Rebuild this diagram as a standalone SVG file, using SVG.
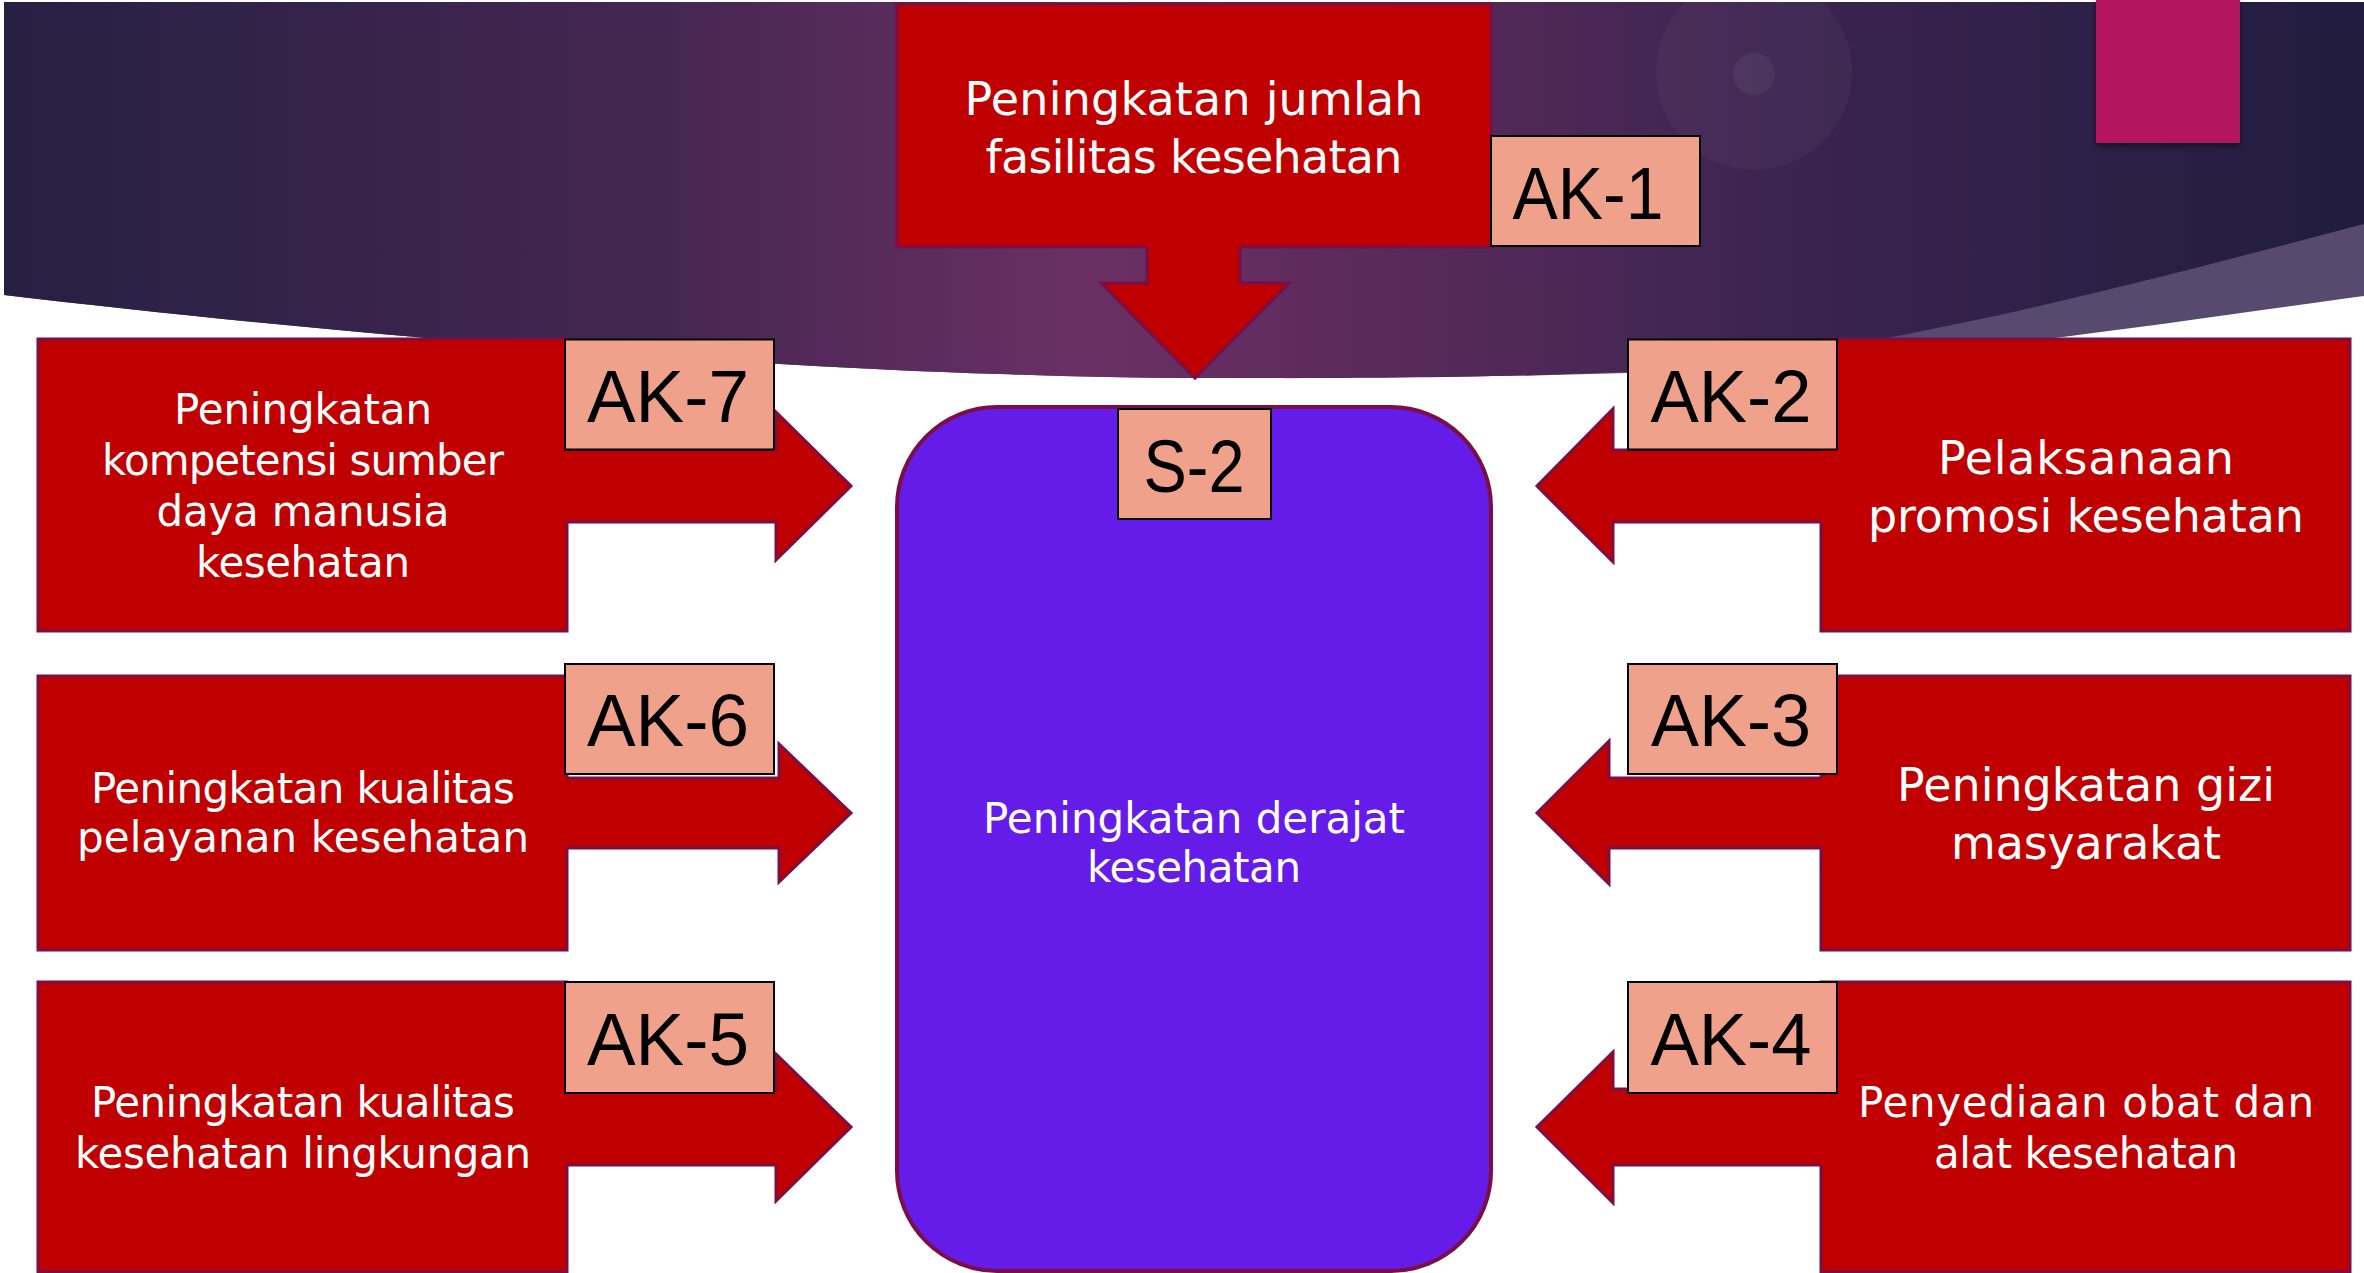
<svg xmlns="http://www.w3.org/2000/svg" width="2364" height="1273" viewBox="0 0 2364 1273">
<defs>
<linearGradient id="bg" gradientUnits="userSpaceOnUse" x1="0" y1="0" x2="2364" y2="0">
<stop offset="0" stop-color="#262043"/>
<stop offset="0.28" stop-color="#452653"/>
<stop offset="0.46" stop-color="#6a3066"/>
<stop offset="0.56" stop-color="#5e2b5e"/>
<stop offset="0.75" stop-color="#3c2450"/>
<stop offset="1" stop-color="#211c40"/>
</linearGradient>
<filter id="sh" x="-20%" y="-20%" width="140%" height="140%">
<feDropShadow dx="0" dy="3" stdDeviation="3" flood-color="#000" flood-opacity="0.5"/>
</filter>
</defs>
<style>
.red{fill:#c00000;stroke:#7b0e45;stroke-width:3;stroke-linejoin:miter}
.tag{fill:#f0a18b;stroke:#000;stroke-width:2}
.tagtxt{font-family:"Liberation Sans",Arial,sans-serif;font-size:75px;fill:#000;text-anchor:middle}
.wt{font-family:"DejaVu Sans","Liberation Sans",sans-serif;fill:#fff;text-anchor:middle}
.f46{font-size:46px}
.f42{font-size:42px}
</style>
<rect width="2364" height="1273" fill="#fff"/>
<g id="background">
<path d="M4,2 H2364 V296 C2200,318 2000,350 1750,368 C1550,378 1350,378 1195,378 Q1100,378 1000,374 C700,365 300,330 4,295 Z" fill="#574a6e"/>
<path d="M4,2 H2364 V224 C2150,280 1950,335 1700,368 C1500,380 1300,378 1195,378 Q1100,378 1000,374 C700,365 300,330 4,295 Z" fill="url(#bg)"/>
<circle cx="1754" cy="72" r="98" fill="#fff" fill-opacity="0.035"/>
<circle cx="1754" cy="74" r="21" fill="#fff" fill-opacity="0.05"/>
<rect x="2096" y="0" width="144" height="143" fill="#b3135f" filter="url(#sh)"/>
</g>
<g id="connectors">
<path class="red" d="M1147,247 V283 H1101 L1195,378 L1289,283 H1240 V247"/>
<path class="red" d="M567,450 H776 V412 L851,486 L776,560 V522 H567"/>
<path class="red" d="M567,778 H779 V744 L851,813 L779,882 V848 H567"/>
<path class="red" d="M567,1089 H776 V1054 L851,1127 L776,1201 V1165 H567"/>
<path class="red" d="M1821,450 H1613 V409 L1537,486 L1613,562 V522 H1821"/>
<path class="red" d="M1821,778 H1609 V741 L1537,813 L1609,884 V848 H1821"/>
<path class="red" d="M1821,1089 H1613 V1052 L1537,1127 L1613,1203 V1165 H1821"/>
</g>
<g id="S-2">
<rect x="897" y="407" width="594" height="864" rx="100" ry="100" fill="#651ce9" stroke="#7b0e45" stroke-width="4"/>
<rect class="tag" x="1118" y="409" width="153" height="110"/>
<text class="tagtxt" x="1194" y="492" font-size="78" textLength="101" lengthAdjust="spacingAndGlyphs">S-2</text>
<text class="wt f42" x="1194" y="833" textLength="422">Peningkatan derajat</text>
<text class="wt f42" x="1194" y="882" textLength="214">kesehatan</text>
</g>
<g id="AK-1">
<path class="red" d="M1240,247 H1491 V4 H897 V247 H1147"/>
<text class="wt f46" x="1194" y="115" textLength="459">Peningkatan jumlah</text>
<text class="wt f46" x="1194" y="173" textLength="417">fasilitas kesehatan</text>
<rect class="tag" x="1491" y="136" width="209" height="110"/>
<text class="tagtxt" x="1588" y="219" textLength="151" lengthAdjust="spacingAndGlyphs">AK-1</text>
</g>
<g id="AK-7">
<path class="red" d="M567,450 V339 H38 V631 H567 V522"/>
<text class="wt f42" x="303" y="424" textLength="258">Peningkatan</text>
<text class="wt f42" x="303" y="475" textLength="402">kompetensi sumber</text>
<text class="wt f42" x="303" y="526" textLength="293">daya manusia</text>
<text class="wt f42" x="303" y="577" textLength="214">kesehatan</text>
<rect class="tag" x="565" y="339.5" width="209" height="110"/>
<text class="tagtxt" x="668" y="422" textLength="162" lengthAdjust="spacingAndGlyphs">AK-7</text>
</g>
<g id="AK-6">
<path class="red" d="M567,778 V676 H38 V950 H567 V848"/>
<text class="wt f42" x="303" y="803" textLength="424">Peningkatan kualitas</text>
<text class="wt f42" x="303" y="852" textLength="452">pelayanan kesehatan</text>
<rect class="tag" x="565" y="664" width="209" height="110"/>
<text class="tagtxt" x="668" y="746" textLength="162" lengthAdjust="spacingAndGlyphs">AK-6</text>
</g>
<g id="AK-5">
<path class="red" d="M567,1089 V982 H38 V1272 H567 V1165"/>
<text class="wt f42" x="303" y="1117" textLength="424">Peningkatan kualitas</text>
<text class="wt f42" x="303" y="1168" textLength="456">kesehatan lingkungan</text>
<rect class="tag" x="565" y="982" width="209" height="111"/>
<text class="tagtxt" x="668" y="1065" textLength="162" lengthAdjust="spacingAndGlyphs">AK-5</text>
</g>
<g id="AK-2">
<path class="red" d="M1821,450 V339 H2350 V631 H1821 V522"/>
<text class="wt f46" x="2086" y="474" textLength="296">Pelaksanaan</text>
<text class="wt f46" x="2086" y="532" textLength="436">promosi kesehatan</text>
<rect class="tag" x="1628" y="339.5" width="209" height="110"/>
<text class="tagtxt" x="1731" y="422" textLength="161" lengthAdjust="spacingAndGlyphs">AK-2</text>
</g>
<g id="AK-3">
<path class="red" d="M1821,778 V676 H2350 V950 H1821 V848"/>
<text class="wt f46" x="2086" y="801" textLength="378">Peningkatan gizi</text>
<text class="wt f46" x="2086" y="859" textLength="270">masyarakat</text>
<rect class="tag" x="1628" y="664" width="209" height="110"/>
<text class="tagtxt" x="1731" y="746" textLength="160" lengthAdjust="spacingAndGlyphs">AK-3</text>
</g>
<g id="AK-4">
<path class="red" d="M1821,1089 V982 H2350 V1272 H1821 V1165"/>
<text class="wt f42" x="2086" y="1117" textLength="456">Penyediaan obat dan</text>
<text class="wt f42" x="2086" y="1168" textLength="304">alat kesehatan</text>
<rect class="tag" x="1628" y="982" width="209" height="111"/>
<text class="tagtxt" x="1731" y="1065" textLength="161" lengthAdjust="spacingAndGlyphs">AK-4</text>
</g>
</svg>
